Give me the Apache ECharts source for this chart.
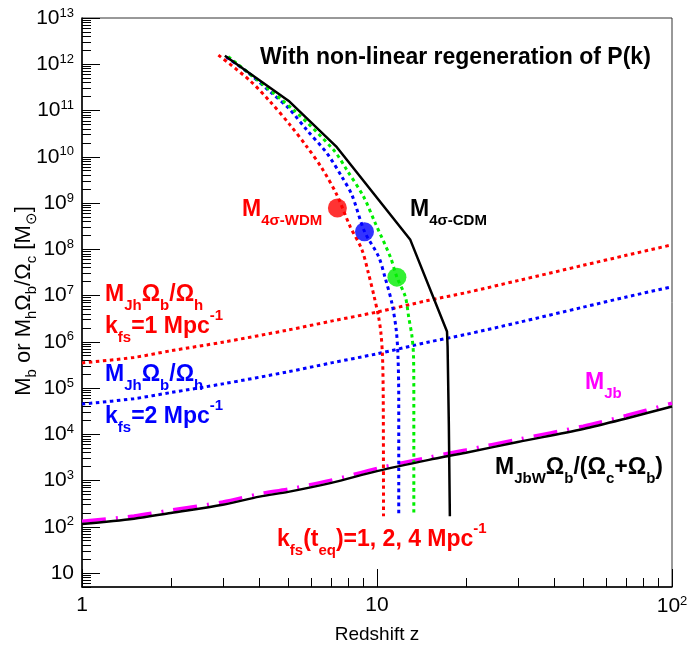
<!DOCTYPE html>
<html>
<head>
<meta charset="utf-8">
<script src="https://cdn.jsdelivr.net/npm/echarts@6/dist/echarts.min.js"></script>
<style>
html, body { margin: 0; background: #fff; }
#main { width: 691px; height: 650px; }
</style>
</head>
<body>
<div id="main"></div>
<script>
// tick labels
var xTicks = [1, 10, 100];
var yTicks = [10, 1e2, 1e3, 1e4, 1e5, 1e6, 1e7, 1e8, 1e9, 1e10, 1e11, 1e12, 1e13];

// Jeans masses vs redshift
var zJh = [1, 1.5, 2, 3, 5, 7, 10, 15, 20, 30, 50, 70, 100];
var mJhK1 = [3.5e5, 4.6e5, 6.4e5, 9.8e5, 1.8e6, 2.8e6, 4.4e6, 7.9e6, 1.15e7, 2.1e7, 4.5e7, 7.4e7, 1.25e8];
var mJhK2 = [4.5e4, 5.9e4, 8.0e4, 1.23e5, 2.25e5, 3.5e5, 5.5e5, 9.9e5, 1.44e6, 2.6e6, 5.6e6, 9.3e6, 1.55e7];

var zJb = [1, 1.5, 2, 3, 4, 5, 7, 10, 15, 20, 30, 50, 70, 100];
var mJbW = [115, 150, 200, 300, 450, 570, 890, 1600, 2800, 4000, 6800, 1.3e4, 2.2e4, 4.0e4];
var mJb = [132, 172, 230, 345, 520, 655, 1020, 1840, 3200, 4600, 7800, 1.5e4, 2.55e4, 4.7e4];

// 4 sigma masses
var zCdm = [3.05, 5.05, 7.31, 12.97, 17.27, 17.35, 17.52, 17.66];
var mCdm = [1.53e12, 1.56e11, 1.61e10, 1.6e8, 1.67e6, 7.9e5, 1.6e4, 170];

var zWdm1 = [2.90, 3.71, 4.34, 5.07, 5.78, 6.50, 7.31, 8.11, 8.89, 9.35, 9.78, 10.12, 10.31, 10.44, 10.5, 10.52];
var mWdm1 = [1.58e12, 4.43e11, 1.56e11, 4.9e10, 1.66e10, 5.7e9, 1.5e9, 3.1e8, 9.8e7, 3.06e7, 9.5e6, 3.5e6, 1.55e6, 4.8e5, 5.6e4, 170];
var zWdm2 = [3.09, 3.62, 4.40, 5.01, 5.78, 6.76, 7.60, 8.22, 9.07, 10.12, 10.66, 11.23, 11.62, 11.78, 11.85, 11.85];
var mWdm2 = [1.42e12, 6.9e11, 2.37e11, 1.13e11, 3.8e10, 1.2e10, 3.7e9, 1.5e9, 2.43e8, 7.0e7, 2.4e7, 6.9e6, 1.8e6, 4.8e5, 5.6e4, 170];
var zWdm4 = [3.13, 5.21, 7.12, 7.90, 9.0, 9.86, 11.09, 11.68, 12.47, 12.8, 13.14, 13.3, 13.33, 13.33];
var mWdm4 = [1.46e12, 1.03e11, 1.41e10, 5.2e9, 1.38e9, 3.7e8, 6.9e7, 2.5e7, 9.5e6, 3.5e6, 1.3e6, 4.8e5, 5.6e4, 170];

// big dots
var zDots = [7.34, 9.07, 11.68];
var mDots = [7.8e8, 2.4e8, 2.5e7];

var FONT = 'Liberation Sans, Arial, Helvetica, sans-serif';
var RED = '#ff0000', BLUE = '#0000ff', GREEN = '#00ee00', MAG = '#ff00ff';

function pairs(xs, ys) {
  return xs.map(function (x, i) { return [x, ys[i]]; });
}
function minors(lo, hi) {
  var out = [];
  for (var e = lo; e < hi; e++)
    for (var k = 2; k <= 9; k++) out.push(k * Math.pow(10, e));
  return out;
}
function powLabel(v) {
  var e = Math.round(Math.log10(v));
  if (e === 0) return '1';
  if (e === 1) return '10';
  return '10{u|' + e + '}';
}

var labelRich = { u: { fontSize: 13, fontFamily: FONT, color: '#000', padding: [0, 0, 10, 0] } };

function mainAxis(ticks, min, max, extra) {
  var a = {
    type: 'log', logBase: 10, min: min, max: max,
    axisLine: { lineStyle: { color: '#000', width: 1.5 } },
    axisTick: { inside: true, length: 18, customValues: ticks, lineStyle: { color: '#000', width: 1 } },
    axisLabel: { customValues: ticks, formatter: powLabel, fontSize: 21, fontFamily: FONT, color: '#000', rich: labelRich },
    splitLine: { show: false }
  };
  for (var k in extra) a[k] = extra[k];
  return a;
}
function minorAxis(values, min, max, pos) {
  return {
    type: 'log', logBase: 10, min: min, max: max, position: pos, offset: 0,
    axisLine: { show: false },
    axisTick: { inside: true, length: 9, customValues: values, lineStyle: { color: '#000', width: 1 } },
    axisLabel: { show: false },
    splitLine: { show: false }
  };
}

function dotted(name, xs, ys, color) {
  return {
    name: name, type: 'line', data: pairs(xs, ys), showSymbol: false, smooth: 0.3,
    lineStyle: { color: color, width: 3, type: [3.5, 3.5] }, z: 3
  };
}

var sub = { fontSize: 15, fontWeight: 'bold', fontFamily: FONT, padding: [22, 0, 0, 0] };
var sup = { fontSize: 15, fontWeight: 'bold', fontFamily: FONT, padding: [0, 0, 22, 0] };
function ann(x, y, text, color, extraRich) {
  var rich = { s: sub, u: sup };
  for (var k in extraRich) rich[k] = extraRich[k];
  return {
    type: 'text', x: x, y: y, z: 10,
    style: {
      text: text, fill: color, font: 'bold 23px ' + FONT,
      align: 'left', verticalAlign: 'middle', rich: rich
    }
  };
}
function col(c) {
  return { fontSize: 23, fontWeight: 'bold', fontFamily: FONT, color: c };
}

var chart = echarts.init(document.getElementById('main'));
chart.setOption({
  animation: false,
  backgroundColor: '#fff',
  grid: { left: 82, right: 19, top: 18, bottom: 63, show: true, borderColor: '#333', borderWidth: 1 },
  xAxis: [
    mainAxis(xTicks, 1, 100, {
      position: 'bottom',
      name: 'Redshift z', nameLocation: 'middle', nameGap: 38,
      nameTextStyle: { fontSize: 19, fontFamily: FONT, color: '#000' }
    }),
    minorAxis(minors(0, 2), 1, 100, 'bottom')
  ],
  yAxis: [
    mainAxis(yTicks, 5, 1e13, { position: 'left' }),
    minorAxis(minors(0, 13), 5, 1e13, 'left')
  ],
  series: [
    { name: 'MJb', type: 'line', data: pairs(zJb, mJb), showSymbol: false, smooth: 0.3,
      lineStyle: { color: MAG, width: 3.5, type: [24, 10, 2, 10] }, z: 2 },
    { name: 'MJbW', type: 'line', data: pairs(zJb, mJbW), showSymbol: false, smooth: 0.3,
      lineStyle: { color: '#000', width: 2.5 }, z: 4 },
    dotted('MJh k1', zJh, mJhK1, RED),
    dotted('MJh k2', zJh, mJhK2, BLUE),
    dotted('WDM k1', zWdm1, mWdm1, RED),
    dotted('WDM k2', zWdm2, mWdm2, BLUE),
    dotted('WDM k4', zWdm4, mWdm4, GREEN),
    { name: 'CDM', type: 'line', data: pairs(zCdm, mCdm), showSymbol: false,
      lineStyle: { color: '#000', width: 2.5 }, z: 4 },
    { name: 'dots', type: 'scatter', data: pairs(zDots, mDots), symbolSize: 19, z: 6,
      itemStyle: { color: function (p) { return [RED, BLUE, GREEN][p.dataIndex]; } } }
  ],
  graphic: [
    {
      type: 'text', x: 24, y: 301, rotation: Math.PI / 2, z: 10,
      style: {
        text: 'M{s|b} or M{s|h}Ω{s|b}/Ω{s|c} [M{s|⊙}]',
        font: '22px ' + FONT, fill: '#000', align: 'center', verticalAlign: 'middle',
        rich: { s: { fontSize: 15, fontFamily: FONT, padding: [15, 0, 0, 0] } }
      }
    },
    ann(260, 58, 'With non-linear regeneration of P(k)', '#000'),
    ann(410, 210, 'M{s|4σ-CDM}', '#000'),
    ann(242, 210, 'M{s|4σ-WDM}', RED),
    ann(105, 295, 'M{s|Jh}Ω{s|b}/Ω{s|h}', RED),
    ann(105, 327, 'k{s|fs}=1 Mpc{u|-1}', RED),
    ann(105, 375, 'M{s|Jh}Ω{s|b}/Ω{s|h}', BLUE),
    ann(105, 417, 'k{s|fs}=2 Mpc{u|-1}', BLUE),
    ann(585, 383, 'M{s|Jb}', MAG),
    ann(495, 468, 'M{s|JbW}Ω{s|b}/(Ω{s|c}+Ω{s|b})', '#000'),
    ann(277, 540, 'k{s|fs}(t{s|eq})=1, {b|2,} {g|4} Mpc{u|-1}', RED,
        { b: col(BLUE), g: col(GREEN) })
  ]
});
</script>
</body>
</html>
